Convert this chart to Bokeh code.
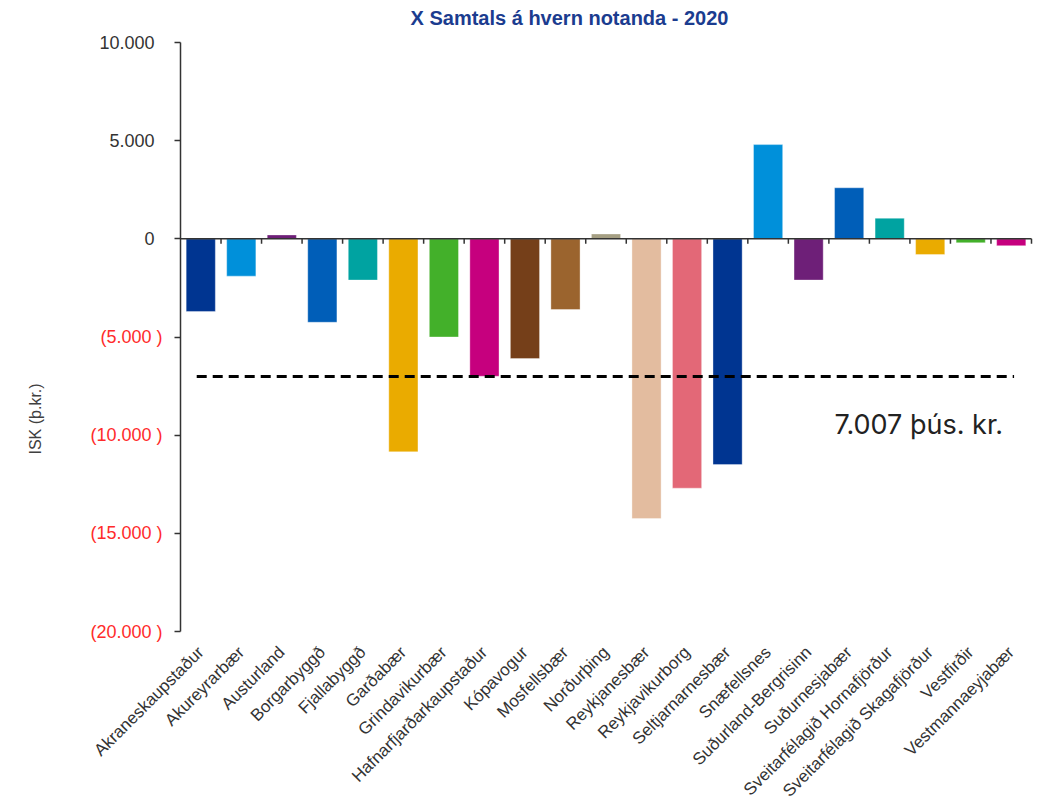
import math
from bokeh.plotting import figure
from bokeh.models import Range1d, FixedTicker, Label, ColumnDataSource, LinearAxis
from bokeh.embed import file_html
from bokeh.resources import INLINE

# ---- data ----
categories = [
    "Akraneskaupstaður", "Akureyrarbær", "Austurland", "Borgarbyggð", "Fjallabyggð",
    "Garðabær", "Grindavikurbær", "Hafnarfjarðarkaupstaður", "Kópavogur", "Mosfellsbær",
    "Norðurþing", "Reykjanesbær", "Reykjavikurborg", "Seltjarnarnesbær", "Snæfellsnes",
    "Suðurland-Bergrisinn", "Suðurnesjabær", "Sveitarfélagið Hornafjörður",
    "Sveitarfélagið Skagafjörður", "Vestfirðir", "Vestmannaeyjabær",
]
values = [
    -3700, -1900, 200, -4250, -2100,
    -10850, -5000, -7000, -6100, -3600,
    250, -14250, -12700, -11500, 4800,
    -2100, 2600, 1050,
    -800, -200, -350,
]
colors = [
    "#003591", "#0090DA", "#6E1F78", "#005EB8", "#00A3A1",
    "#EAAB00", "#43B02A", "#C6007E", "#753F19", "#9B642E",
    "#A59F83", "#E3BC9F", "#E36877", "#003591", "#0090DA",
    "#6E1F78", "#005EB8", "#00A3A1",
    "#EAAB00", "#43B02A", "#C6007E",
]
average = -7007
average_label = "7.007 þús. kr."
y_ticks = [10000, 5000, 0, -5000, -10000, -15000, -20000]
y_tick_labels = ["10.000", "5.000", "0", "(5.000 )", "(10.000 )", "(15.000 )", "(20.000 )"]
title_text = "X Samtals á hvern notanda - 2020"
y_title = "ISK  (þ.kr.)"

# ---- layout (pixels) ----
W, H = 1040, 805
AX_LEFT, AX_RIGHT = 180, 1031      # plot area left/right in px
AX_TOP, AX_BOTTOM = 42, 631        # plot area top/bottom in px
n = len(categories)
y_min, y_max = min(y_ticks), max(y_ticks)
px_x = (AX_RIGHT - AX_LEFT) / n                    # px per category
px_y = (AX_BOTTOM - AX_TOP) / (y_max - y_min)      # px per unit
AXIS_X = 0.5
x_start = AXIS_X - AX_LEFT / px_x
x_end = AXIS_X + n + (W - AX_RIGHT) / px_x
y_top = y_max + AX_TOP / px_y
y_bot = y_min - (H - AX_BOTTOM) / px_y

xs = list(range(1, n + 1))
src = ColumnDataSource(dict(x=xs, top=values, color=colors))

p = figure(width=W, height=H, output_backend="svg", toolbar_location=None,
           x_range=Range1d(x_start, x_end), y_range=Range1d(y_bot, y_top),
           min_border_left=0, min_border_right=0, min_border_top=0, min_border_bottom=0)
p.outline_line_color = None
p.xgrid.visible = False
p.ygrid.visible = False
p.background_fill_color = "white"

p.vbar(x="x", top="top", bottom=0, width=0.72, fill_color="color", line_color="white",
       line_width=0.6, line_alpha=0.6, source=src)

# zero line with category-boundary ticks
p.segment(x0=[AXIS_X], x1=[AXIS_X + n], y0=[0], y1=[0], line_color="#333333", line_width=1.5)
bounds = [x + 0.5 for x in xs]
p.segment(x0=bounds, x1=bounds, y0=[0] * n, y1=[-5 / px_y] * n,
          line_color="#333333", line_width=1.5)

# average dashed line
p.segment(x0=[xs[0] - 0.1], x1=[xs[-1] + 0.07], y0=[average], y1=[average],
          line_color="black", line_width=3, line_dash="10 6")
p.add_layout(Label(x=xs[-1] - 0.2, y=average - 2470, text=average_label,
                   text_align="right", text_baseline="middle",
                   text_font="Inter", text_font_size="27px", text_color="#222222"))

# y axis: positive labels (black)
ya = p.yaxis[0]
ya.fixed_location = AXIS_X
ya.bounds = (y_min, y_max)
ya.ticker = FixedTicker(ticks=y_ticks)
ya.major_label_overrides = {t: (l if t >= 0 else "") for t, l in zip(y_ticks, y_tick_labels)}
ya.major_tick_out = 6
ya.major_tick_in = 0
ya.minor_tick_out = 0
ya.minor_tick_in = 0
ya.axis_line_color = "#333333"
ya.axis_line_width = 1.5
ya.major_tick_line_color = "#333333"
ya.major_tick_line_width = 1.5
ya.major_label_standoff = 20
ya.major_label_text_font = "Liberation Sans"
ya.major_label_text_font_size = "18px"
ya.major_label_text_color = "#333333"

# second y axis at the same place: negative labels (red)
ya2 = LinearAxis(ticker=FixedTicker(ticks=[t for t in y_ticks if t < 0]),
                 major_label_overrides={t: l for t, l in zip(y_ticks, y_tick_labels) if t < 0},
                 fixed_location=AXIS_X, bounds=(y_min, y_max),
                 axis_line_color=None, major_tick_line_color=None, minor_tick_line_color=None,
                 major_label_standoff=12,
                 major_label_text_font="Liberation Sans", major_label_text_font_size="18px",
                 major_label_text_color="#FF2B2B")
p.add_layout(ya2, "left")

# x axis (labels only), drawn at the bottom of the value axis
xa = p.xaxis[0]
xa.fixed_location = y_min
xa.ticker = FixedTicker(ticks=xs)
xa.major_label_overrides = {x: c for x, c in zip(xs, categories)}
xa.major_label_orientation = math.pi / 4
xa.axis_line_color = None
xa.major_tick_line_color = None
xa.minor_tick_line_color = None
xa.major_label_standoff = 12
xa.major_label_text_font = "Liberation Sans"
xa.major_label_text_font_size = "17px"
xa.major_label_text_color = "#333333"

# title and y-axis title
p.add_layout(Label(x=AXIS_X + (569 - AX_LEFT) / px_x, y=y_max + (AX_TOP - 17) / px_y,
                   text=title_text, text_align="center", text_baseline="middle",
                   text_font="Liberation Sans", text_font_style="bold",
                   text_font_size="20px", text_color="#1B3C8F"))
p.add_layout(Label(x=AXIS_X - (AX_LEFT - 35) / px_x, y=-9060, text=y_title, angle=math.pi / 2,
                   text_align="center", text_baseline="middle",
                   text_font="Liberation Sans", text_font_size="16px", text_color="#404040"))

open("out.html", "w").write(file_html(p, INLINE))
